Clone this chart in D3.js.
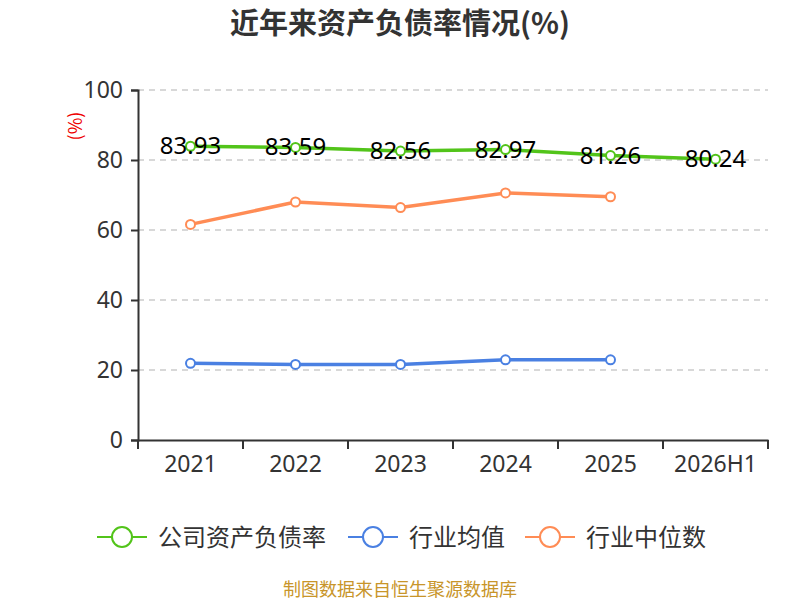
<!DOCTYPE html>
<html><head><meta charset="utf-8">
<script src="https://cdn.jsdelivr.net/npm/d3@7"></script>
<style>body{margin:0;background:#fff;}svg{font-family:"Noto Sans CJK SC","Noto Sans",sans-serif;}</style>
</head><body>
<svg id="c" width="800" height="600"></svg>
<script>
const categories = ["2021","2022","2023","2024","2025","2026H1"];
const companyRate = [83.93, 83.59, 82.56, 82.97, 81.26, 80.24];
const industryMean = [21.9, 21.6, 21.6, 22.9, 22.9, null];
const industryMedian = [61.6, 68.0, 66.4, 70.6, 69.5, null];
const yTicks = [0, 20, 40, 60, 80, 100];

const svg = d3.select("#c");
const m = {l:138, r:768, t:90, b:440};
const x = d3.scaleBand().domain(categories).range([m.l, m.r]);
const y = d3.scaleLinear().domain([0,100]).range([m.b, m.t]);
const numFont = "'Noto Sans','Noto Sans CJK SC',sans-serif";

svg.append("text").attr("x",400).attr("y",34).attr("text-anchor","middle")
  .attr("font-size",29).attr("font-weight","bold").attr("fill","#333").text("近年来资产负债率情况(%)");

// grid
svg.append("g").selectAll("line").data(yTicks.filter(d=>d>0)).join("line")
  .attr("x1",m.l).attr("x2",m.r).attr("y1",d=>y(d)).attr("y2",d=>y(d))
  .attr("stroke","#ccc").attr("stroke-width",1.5).attr("stroke-dasharray","6,5");

// y axis
const ya = svg.append("g").attr("transform",`translate(${m.l},0)`)
  .call(d3.axisLeft(y).tickValues(yTicks).tickSize(7).tickPadding(8));
ya.select(".domain").attr("stroke","#333").attr("stroke-width",2);
ya.selectAll(".tick line").attr("stroke","#333").attr("stroke-width",2);
ya.selectAll(".tick text").attr("font-size",23).attr("fill","#333").attr("font-family",numFont);

// x axis
const xa = svg.append("g").attr("transform",`translate(0,${m.b})`)
  .call(d3.axisBottom(x).tickSize(0).tickPadding(16));
xa.select(".domain").attr("stroke","#333").attr("stroke-width",2);
xa.selectAll(".tick text").attr("font-size",23).attr("fill","#333").attr("font-family",numFont);
const bounds = categories.map(c=>x(c)).concat([x(categories[categories.length-1])+x.bandwidth()]);
svg.append("g").selectAll("line").data(bounds).join("line")
  .attr("x1",d=>d).attr("x2",d=>d).attr("y1",m.b).attr("y2",m.b+9)
  .attr("stroke","#333").attr("stroke-width",2);

svg.append("text").attr("transform","translate(82,126) rotate(-90)").attr("text-anchor","middle")
  .attr("font-size",18).attr("fill","#e00").text("(%)");

const series = [
  {name:"公司资产负债率", data:companyRate, color:"#52c41a", labels:true},
  {name:"行业均值", data:industryMean, color:"#4a80e2", labels:false},
  {name:"行业中位数", data:industryMedian, color:"#ff8c55", labels:false}
];
const cx = c => x(c) + x.bandwidth()/2;
const line = d3.line().defined(d=>d.v!=null).x(d=>cx(d.c)).y(d=>y(d.v));

series.forEach(s=>{
  const pts = categories.map((c,i)=>({c, v:s.data[i]})).filter(d=>d.v!=null);
  svg.append("path").datum(pts).attr("d",line).attr("fill","none")
    .attr("stroke",s.color).attr("stroke-width",3.5);
  svg.append("g").selectAll("circle").data(pts).join("circle")
    .attr("cx",d=>cx(d.c)).attr("cy",d=>y(d.v)).attr("r",4.5)
    .attr("fill","#fff").attr("stroke",s.color).attr("stroke-width",2);
  if(s.labels){
    svg.append("g").selectAll("text").data(pts).join("text")
      .attr("x",d=>cx(d.c)).attr("y",d=>y(d.v)+8).attr("text-anchor","middle")
      .attr("font-size",24).attr("fill","#000").attr("font-family",numFont)
      .text(d=>d.v.toFixed(2));
  }
});

// legend
const legX = [97, 348, 525];
series.forEach((s,i)=>{
  const g = svg.append("g").attr("transform",`translate(${legX[i]},537)`);
  g.append("line").attr("x1",0).attr("x2",50).attr("y1",0).attr("y2",0).attr("stroke",s.color).attr("stroke-width",2);
  g.append("circle").attr("cx",25).attr("cy",0).attr("r",10).attr("fill","#fff").attr("stroke",s.color).attr("stroke-width",2);
  g.append("text").attr("x",61).attr("y",9).attr("font-size",24).attr("fill","#333").text(s.name);
});

svg.append("text").attr("x",400).attr("y",596).attr("text-anchor","middle")
  .attr("font-size",18).attr("fill","#c8952a").text("制图数据来自恒生聚源数据库");
</script>
</body></html>
